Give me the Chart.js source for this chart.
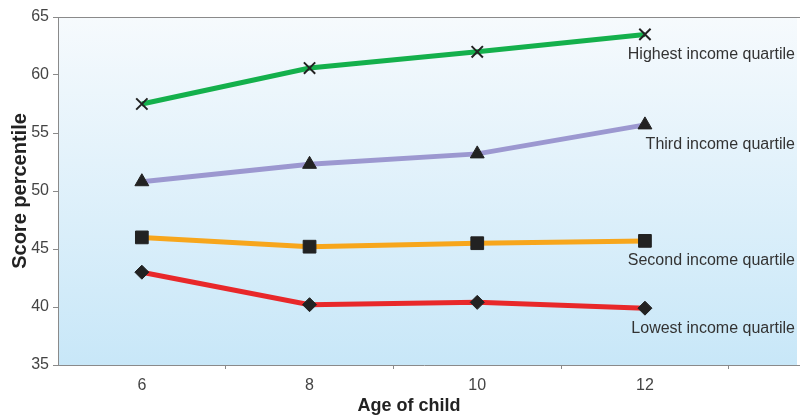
<!DOCTYPE html>
<html>
<head>
<meta charset="utf-8">
<script src="https://cdn.jsdelivr.net/npm/chart.js@4.4.1/dist/chart.umd.min.js"></script>
<style>
  html, body { margin: 0; padding: 0; background: #fff; overflow: hidden; }
  canvas { display: block; }
</style>
</head>
<body>
<canvas id="chart" width="800" height="417"></canvas>
<script>
// data
const ages = [6, 8, 10, 12];
const seriesNames = ['Highest income quartile', 'Third income quartile', 'Second income quartile', 'Lowest income quartile'];
const highest = [57.5, 60.6, 62.0, 63.5];
const third = [50.8, 52.3, 53.2, 55.7];
const second = [46.0, 45.2, 45.5, 45.7];
const lowest = [43.0, 40.2, 40.4, 39.9];
const yTicks = [35, 40, 45, 50, 55, 60, 65];
const xTicks = [6, 7, 8, 9, 10, 11, 12, 13];

const lineColors = ['#14b04c', '#9c98d0', '#f7a61c', '#e8282a'];
const markers = ['crossRot', 'triangle', 'rect', 'rectRot'];
const markerSizes = [8, 8, 9, 7];
const FONT = '"Liberation Sans", Arial, sans-serif';

const toPoints = vals => vals.map((v, i) => ({ x: ages[i], y: v }));

// light gradient behind the plot + top frame line (runs to the canvas edge)
const backdrop = {
  id: 'backdrop',
  beforeDraw(chart) {
    const { ctx, chartArea: a } = chart;
    const right = chart.width - 3;
    const g = ctx.createLinearGradient(0, a.top, 0, a.bottom);
    g.addColorStop(0, '#f6fafd');
    g.addColorStop(1, '#c8e7f8');
    ctx.save();
    ctx.fillStyle = g;
    ctx.fillRect(a.left, a.top, right - a.left, a.bottom - a.top);
    ctx.strokeStyle = '#8a8a8a';
    ctx.lineWidth = 1;
    ctx.beginPath();
    ctx.moveTo(a.left, a.top + 0.5);
    ctx.lineTo(chart.width, a.top + 0.5);
    ctx.moveTo(a.right, a.bottom + 0.5);
    ctx.lineTo(chart.width, a.bottom + 0.5);
    ctx.stroke();
    ctx.restore();
  }
};

// series names under the last point + x axis title
const endLabels = {
  id: 'endLabels',
  afterDatasetsDraw(chart) {
    const { ctx } = chart;
    ctx.save();
    ctx.font = '16px ' + FONT;
    ctx.fillStyle = '#333';
    ctx.textAlign = 'right';
    ctx.textBaseline = 'middle';
    chart.data.datasets.forEach((ds, i) => {
      const meta = chart.getDatasetMeta(i);
      const last = meta.data[meta.data.length - 1];
      ctx.fillText(seriesNames[i], 795, last.y + 20);
    });
    ctx.font = 'bold 18px ' + FONT;
    ctx.fillStyle = '#222';
    ctx.textAlign = 'center';
    ctx.fillText('Age of child', 409, 406);
    ctx.restore();
  }
};

const datasets = [highest, third, second, lowest].map((vals, i) => ({
  label: seriesNames[i],
  data: toPoints(vals),
  borderColor: lineColors[i],
  borderWidth: 5,
  pointStyle: markers[i],
  pointRadius: markerSizes[i],
  pointBackgroundColor: '#222',
  pointBorderColor: '#222',
  pointBorderWidth: i === 0 ? 2 : 1,
  tension: 0
}));

new Chart(document.getElementById('chart'), {
  type: 'line',
  data: { datasets },
  options: {
    responsive: false,
    animation: false,
    layout: { padding: { top: 17, right: 0, left: 0, bottom: 0 } },
    plugins: { legend: { display: false }, tooltip: { enabled: false } },
    scales: {
      x: {
        type: 'linear',
        min: 5,
        max: 13.73,
        afterBuildTicks: scale => { scale.ticks = xTicks.map(v => ({ value: v })); },
        afterFit: scale => { scale.height = 52; },
        border: { color: '#8a8a8a', width: 1 },
        grid: {
          drawOnChartArea: false,
          tickLength: 4,
          color: c => (c.tick && c.tick.value % 2 === 1) ? '#8a8a8a' : 'rgba(0,0,0,0)'
        },
        ticks: {
          autoSkip: false,
          maxRotation: 0,
          padding: 7,
          color: '#444',
          font: { family: FONT, size: 16 },
          callback: v => (v % 2 === 0 ? String(v) : '')
        }
      },
      y: {
        min: 35,
        max: 65,
        afterBuildTicks: scale => { scale.ticks = yTicks.map(v => ({ value: v })); },
        afterFit: scale => { scale.width = 58; },
        border: { color: '#8a8a8a', width: 1 },
        grid: { drawOnChartArea: false, tickLength: 5, color: '#8a8a8a' },
        ticks: {
          padding: 4,
          color: '#444',
          font: { family: FONT, size: 16 }
        },
        title: {
          display: true,
          text: 'Score percentile',
          color: '#222',
          padding: { top: 8, bottom: 0 },
          font: { family: FONT, size: 20, weight: 'bold' }
        }
      }
    }
  },
  plugins: [backdrop, endLabels]
});
</script>
</body>
</html>
